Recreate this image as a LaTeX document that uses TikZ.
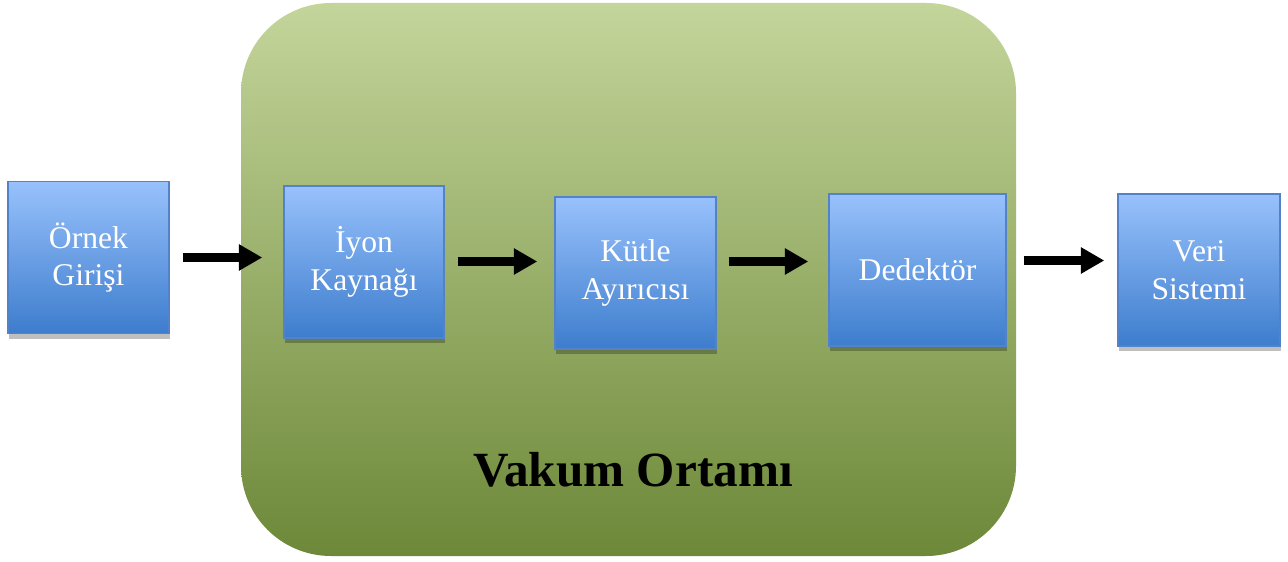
\documentclass[tikz,border=0pt]{standalone}
\usepackage{fontspec}
\setmainfont{Liberation Serif}
\usetikzlibrary{arrows.meta,shadows}

\definecolor{vacTop}{RGB}{196,213,155}
\definecolor{vacMid}{RGB}{160,190,102}
\definecolor{vacBot}{RGB}{108,136,56}
\definecolor{boxTop}{RGB}{152,193,252}
\definecolor{boxBot}{RGB}{61,125,205}
\definecolor{boxLine}{RGB}{84,130,200}

\begin{document}
\begin{tikzpicture}
    % Styles for the blocks and the arrows
    \tikzset{
        block/.style={draw=boxLine, line width=0.8pt, top color=boxTop, bottom color=boxBot,
            minimum width=3.22cm, minimum height=3.03cm, align=center, text=white,
            font=\fontsize{18}{21.5}\selectfont, inner sep=0pt,
            drop shadow={shadow xshift=0.8pt, shadow yshift=-3pt, opacity=0.25, fill=black}},
        flow/.style={-{Triangle[width=0.5cm,length=0.47cm]}, line width=0.18cm, black}
    }

    % Fix the page size
    \useasboundingbox (0,0) rectangle (25.76,11.22);

    % Draw the vacuum region
    \shade[top color=vacTop, middle color=vacMid, bottom color=vacBot, rounded corners=1.8cm]
        (4.82,0.10) rectangle (20.32,11.16);
    \node[anchor=base, font=\bfseries\fontsize{28}{34}\selectfont] (vakum) at (12.66,1.50) {Vakum Ortamı};

    % Draw the blocks
    \node[block] (ornek) at (1.77,6.07) {Örnek\\Girişi};
    \node[block, minimum width=3.20cm, minimum height=3.04cm] (iyon) at (7.28,5.98) {İyon\\Kaynağı};
    \node[block, minimum height=3.04cm] (kutle) at (12.71,5.76) {Kütle\\Ayırıcısı};
    \node[block, minimum width=3.54cm, minimum height=3.04cm] (dedektor) at (18.35,5.82) {Dedektör};
    \node[block, minimum width=3.24cm, minimum height=3.04cm] (veri) at (23.98,5.82) {Veri\\Sistemi};

    % Draw the arrows between the blocks
    \draw[flow, shorten <=0.26cm, shorten >=0.42cm] (ornek.east |- 0,6.07) -- (iyon.west |- 0,6.07);
    \draw[flow, shorten <=0.26cm, shorten >=0.34cm] (iyon.east |- 0,5.99) -- (kutle.west |- 0,5.99);
    \draw[flow, shorten <=0.24cm, shorten >=0.40cm] (kutle.east |- 0,5.99) -- (dedektor.west |- 0,5.99);
    \draw[flow, shorten <=0.34cm, shorten >=0.26cm] (dedektor.east |- 0,6.01) -- (veri.west |- 0,6.01);

\end{tikzpicture}
\end{document}
